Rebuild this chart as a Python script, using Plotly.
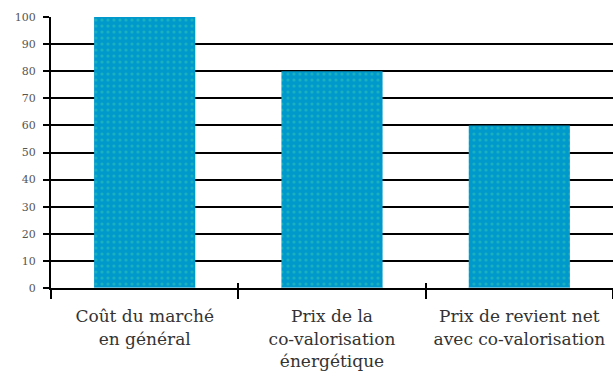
import plotly.graph_objects as go

categories = ["Coût du marché<br>en général",
              "Prix de la<br>co-valorisation<br>énergétique",
              "Prix de revient net<br>avec co-valorisation"]
values = [100, 80, 60]
y_ticks = [0, 10, 20, 30, 40, 50, 60, 70, 80, 90, 100]

fig = go.Figure()
fig.add_trace(go.Bar(
    x=categories, y=values,
    marker=dict(color="#0099cc", line=dict(width=0),
                pattern=dict(shape=".", fgcolor="#33c8b0", bgcolor="#0099cc",
                             size=6, solidity=0.22)),
))
# invisible overlay trace to get inside ticks on boundaries
fig.add_trace(go.Bar(x=categories, y=[0, 0, 0], xaxis="x2", showlegend=False,
                     marker=dict(color="rgba(0,0,0,0)"), hoverinfo="skip"))

fig.update_layout(
    width=613, height=380,
    margin=dict(l=51, r=0, t=17, b=92),
    paper_bgcolor="white", plot_bgcolor="white",
    showlegend=False, bargap=0.46,
    font=dict(family="DejaVu Serif", color="#444"),
    xaxis=dict(type="category", tickson="boundaries", ticks="outside", ticklen=9,
               tickwidth=2, tickcolor="black", showline=True, linecolor="black",
               linewidth=2, showgrid=False, tickfont=dict(size=17, color="#333"),
               ticklabelstandoff=12),
    xaxis2=dict(type="category", overlaying="x", side="bottom", anchor="y",
                tickson="boundaries", ticks="inside", ticklen=5, tickwidth=2,
                tickcolor="black", showticklabels=False, showgrid=False,
                showline=False, matches="x"),
    yaxis=dict(range=[0, 100], tickvals=y_ticks, ticks="outside", ticklen=6,
               tickwidth=2, tickcolor="black", showline=True, linecolor="black",
               linewidth=2, showgrid=True, gridcolor="black", gridwidth=2,
               zeroline=False, tickfont=dict(size=11, color="#555"),
               ticklabelstandoff=5),
)

fig.write_html("out.html")
